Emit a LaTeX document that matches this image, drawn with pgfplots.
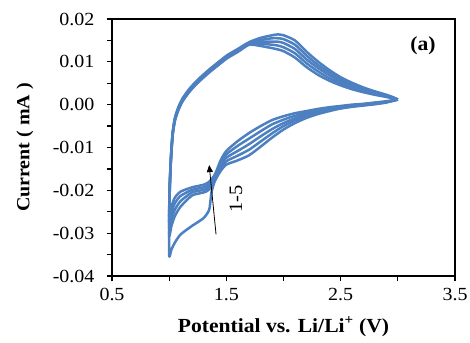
\documentclass[border=0pt]{standalone}
\usepackage{fontspec}
\setmainfont{Liberation Serif}[FakeStretch=1.08]
\usepackage{pgfplots}
\pgfplotsset{compat=1.18}
\usetikzlibrary{arrows.meta}
\definecolor{cv}{RGB}{76,128,192}
\begin{document}
\begin{tikzpicture}
\useasboundingbox (-112pt,-66pt) rectangle (358pt,276pt);
\begin{axis}[
  at={(0pt,0pt)}, anchor=south west,
  width=343pt, height=257pt, scale only axis,
  xmin=0.5, xmax=3.5, ymin=-0.04, ymax=0.02,
  scaled y ticks=false, scaled x ticks=false,
  xtick={0.5,1.5,2.5,3.5}, xticklabels={0.5,1.5,2.5,3.5},
  minor xtick={1,2,3},
  ytick={-0.04,-0.03,-0.02,-0.01,0,0.01,0.02},
  yticklabels={-0.04,-0.03,-0.02,-0.01,0.00,0.01,0.02},
  minor ytick={-0.035,-0.025,-0.015,-0.005,0.005,0.015},
  tick align=outside, xtick pos=left, ytick pos=left,
  major tick length=5pt, minor tick length=5pt,
  axis line style={line width=1.6pt},
  every tick/.style={black, line width=1.3pt},
  tick label style={font=\fontsize{18.5}{20}\selectfont},
  xticklabel style={yshift=-4pt},
  yticklabel style={xshift=-9pt},
  xlabel={\textbf{Potential vs. Li/Li\textsuperscript{+} (V)}},
  ylabel={\textbf{Current ( mA )}},
  xlabel style={font=\fontsize{20}{22}\selectfont, at={(axis description cs:0.5,-0.198)}, anchor=center},
  ylabel style={font=\fontsize{18.5}{20}\selectfont, at={(axis description cs:-0.254,0.5)}, anchor=center},
  clip=false,
]
\addplot[cv, line width=2.5pt, smooth, tension=0.4, line join=round] coordinates {
(3.0,0.0012)(2.9,0.0005)(2.8,0.0001)(2.7,-0.0002)(2.6,-0.0005)(2.5,-0.0009)(2.4,-0.0015)(2.3,-0.0022)(2.2,-0.0031)(2.1,-0.0043)(2.0,-0.0058)(1.9,-0.0077)(1.8,-0.0098)(1.7,-0.0118)(1.6,-0.0130)(1.5,-0.0140)(1.45,-0.0155)(1.4,-0.0178)(1.37,-0.0205)(1.35,-0.0245)(1.3,-0.0265)(1.2,-0.0283)(1.1,-0.0303)(1.05,-0.0322)(1.02,-0.0338)(1.0,-0.0350)
(1.005,-0.0205)(1.015,-0.0133)(1.03,-0.0073)(1.05,-0.0038)(1.08,-0.0013)(1.12,0.0009)(1.18,0.0031)(1.25,0.0051)(1.35,0.0075)(1.5,0.0107)(1.6,0.0123)(1.7,0.0140)(1.8,0.0137)(1.9,0.0132)(1.95,0.0129)(2.0,0.0125)(2.1,0.0110)(2.2,0.0088)(2.3,0.0070)(2.4,0.0056)(2.5,0.0045)(2.6,0.0036)(2.7,0.0029)(2.8,0.0023)(2.9,0.0018)(2.95,0.0015)(3.0,0.0012)
};
\addplot[cv, line width=2.5pt, smooth, tension=0.4, line join=round] coordinates {
(3.0,0.0012)(2.9,0.0006)(2.8,0.0002)(2.7,-0.0001)(2.6,-0.0004)(2.5,-0.0008)(2.4,-0.0013)(2.3,-0.0019)(2.2,-0.0027)(2.1,-0.0037)(2.0,-0.0050)(1.9,-0.0067)(1.8,-0.0086)(1.7,-0.0105)(1.6,-0.0119)(1.5,-0.0132)(1.45,-0.0149)(1.4,-0.0172)(1.35,-0.0198)(1.3,-0.0205)(1.2,-0.0212)(1.1,-0.0238)(1.05,-0.0260)(1.02,-0.0283)(1.0,-0.0305)
(1.005,-0.0200)(1.015,-0.0131)(1.03,-0.0071)(1.05,-0.0037)(1.08,-0.0012)(1.12,0.0010)(1.18,0.0032)(1.25,0.0052)(1.35,0.0077)(1.5,0.0109)(1.6,0.0125)(1.7,0.0142)(1.8,0.0142)(1.9,0.0140)(1.95,0.0138)(2.0,0.0134)(2.1,0.0120)(2.2,0.0097)(2.3,0.0078)(2.4,0.0062)(2.5,0.0050)(2.6,0.0040)(2.7,0.0032)(2.8,0.0025)(2.9,0.0019)(2.95,0.0016)(3.0,0.0012)
};
\addplot[cv, line width=2.5pt, smooth, tension=0.4, line join=round] coordinates {
(3.0,0.0012)(2.9,0.0006)(2.8,0.0003)(2.7,0.0000)(2.6,-0.0003)(2.5,-0.0006)(2.4,-0.0011)(2.3,-0.0016)(2.2,-0.0023)(2.1,-0.0032)(2.0,-0.0043)(1.9,-0.0057)(1.8,-0.0074)(1.7,-0.0092)(1.6,-0.0108)(1.5,-0.0124)(1.45,-0.0143)(1.4,-0.0169)(1.35,-0.0192)(1.3,-0.0199)(1.2,-0.0205)(1.1,-0.0225)(1.05,-0.0245)(1.02,-0.0267)(1.0,-0.0290)
(1.005,-0.0195)(1.015,-0.0129)(1.03,-0.0070)(1.05,-0.0035)(1.08,-0.0010)(1.12,0.0012)(1.18,0.0034)(1.25,0.0054)(1.35,0.0078)(1.5,0.0110)(1.6,0.0126)(1.7,0.0143)(1.8,0.0147)(1.9,0.0147)(1.95,0.0147)(2.0,0.0144)(2.1,0.0130)(2.2,0.0106)(2.3,0.0086)(2.4,0.0069)(2.5,0.0055)(2.6,0.0044)(2.7,0.0035)(2.8,0.0027)(2.9,0.0021)(2.95,0.0017)(3.0,0.0012)
};
\addplot[cv, line width=2.5pt, smooth, tension=0.4, line join=round] coordinates {
(3.0,0.0012)(2.9,0.0007)(2.8,0.0004)(2.7,0.0001)(2.6,-0.0001)(2.5,-0.0005)(2.4,-0.0008)(2.3,-0.0013)(2.2,-0.0019)(2.1,-0.0026)(2.0,-0.0035)(1.9,-0.0046)(1.8,-0.0062)(1.7,-0.0079)(1.6,-0.0096)(1.5,-0.0116)(1.45,-0.0136)(1.4,-0.0166)(1.35,-0.0186)(1.3,-0.0193)(1.2,-0.0199)(1.1,-0.0213)(1.05,-0.0230)(1.02,-0.0252)(1.0,-0.0275)
(1.005,-0.0190)(1.015,-0.0127)(1.03,-0.0068)(1.05,-0.0033)(1.08,-0.0008)(1.12,0.0014)(1.18,0.0036)(1.25,0.0056)(1.35,0.0080)(1.5,0.0112)(1.6,0.0128)(1.7,0.0145)(1.8,0.0151)(1.9,0.0155)(1.95,0.0155)(2.0,0.0153)(2.1,0.0140)(2.2,0.0115)(2.3,0.0093)(2.4,0.0075)(2.5,0.0059)(2.6,0.0047)(2.7,0.0037)(2.8,0.0029)(2.9,0.0022)(2.95,0.0018)(3.0,0.0012)
};
\addplot[cv, line width=2.5pt, smooth, tension=0.4, line join=round] coordinates {
(3.0,0.0012)(2.9,0.0008)(2.8,0.0005)(2.7,0.0002)(2.6,0.0000)(2.5,-0.0003)(2.4,-0.0006)(2.3,-0.0010)(2.2,-0.0015)(2.1,-0.0020)(2.0,-0.0027)(1.9,-0.0036)(1.8,-0.0050)(1.7,-0.0066)(1.6,-0.0085)(1.5,-0.0108)(1.45,-0.0130)(1.4,-0.0163)(1.35,-0.0180)(1.3,-0.0187)(1.2,-0.0193)(1.1,-0.0203)(1.05,-0.0217)(1.02,-0.0238)(1.0,-0.0262)
(1.005,-0.0185)(1.015,-0.0125)(1.03,-0.0066)(1.05,-0.0031)(1.08,-0.0006)(1.12,0.0016)(1.18,0.0038)(1.25,0.0058)(1.35,0.0082)(1.5,0.0114)(1.6,0.0130)(1.7,0.0146)(1.8,0.0156)(1.9,0.0162)(1.95,0.0164)(2.0,0.0162)(2.1,0.0150)(2.2,0.0124)(2.3,0.0101)(2.4,0.0081)(2.5,0.0064)(2.6,0.0051)(2.7,0.0040)(2.8,0.0031)(2.9,0.0023)(2.95,0.0018)(3.0,0.0012)
};
\draw[black, line width=0.8pt, -{Triangle[length=7pt,width=6pt]}] (axis cs:1.41,-0.0303) -- (axis cs:1.35,-0.0141);
\node[rotate=90, font=\fontsize{19}{21}\selectfont] at (axis cs:1.585,-0.022) {1-5};
\node[font=\bfseries\fontsize{20}{22}\selectfont] at (axis cs:3.22,0.0137) {(a)};
\end{axis}
\end{tikzpicture}
\end{document}
